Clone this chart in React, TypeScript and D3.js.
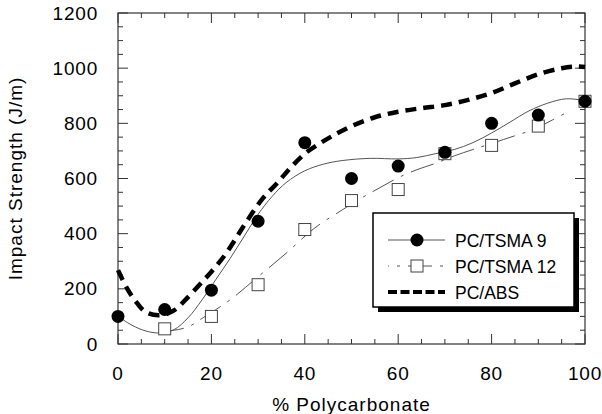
import React from "react";
import * as d3 from "d3";

const WIDTH = 602;
const HEIGHT = 414;

// measured points
const pcX = [0, 10, 20, 30, 40, 50, 60, 70, 80, 90, 100];
const tsma9 = [100, 125, 195, 445, 730, 600, 645, 695, 800, 830, 880];
const tsma12X = [10, 20, 30, 40, 50, 60, 70, 80, 90, 100];
const tsma12 = [55, 100, 215, 415, 520, 560, 690, 720, 790, 880];

// fitted curves
const fit9X = [0, 3, 6, 9, 12, 15, 18, 21, 24, 27, 30, 33, 36, 40, 44, 48, 54, 60, 64, 68, 72, 76, 80, 84, 88, 92, 96, 100];
const fit9Y = [100, 68, 47, 40, 52, 95, 160, 235, 310, 390, 470, 535, 585, 628, 652, 665, 673, 671, 676, 690, 705, 730, 765, 805, 845, 873, 889, 882];
const fit12X = [9, 12, 15, 18, 24, 30, 36, 42, 48, 52, 56, 60, 64, 68, 72, 76, 80, 85, 89, 93, 97];
const fit12Y = [45, 50, 62, 93, 160, 244, 329, 419, 486, 528, 566, 603, 632, 655, 682, 705, 727, 755, 778, 812, 848];
const absX = [0, 2, 4, 6, 9, 12, 15, 18, 20, 23, 27, 31, 34, 37, 40, 43, 46, 50, 55, 60, 65, 70, 75, 80, 85, 90, 95, 98, 100];
const absY = [268, 200, 150, 115, 104, 122, 170, 225, 262, 325, 430, 528, 582, 640, 690, 725, 755, 790, 822, 842, 855, 866, 885, 910, 945, 978, 1000, 1006, 1004];

const xTicks = [0, 20, 40, 60, 80, 100];
const yTicks = [0, 200, 400, 600, 800, 1000, 1200];
const legendLabels = ["PC/TSMA 9", "PC/TSMA 12", "PC/ABS"];

const FONT = "'Liberation Sans', Arial, sans-serif";

export default function App() {
  const left = 118, right = 585, top = 13, bottom = 344;
  const x = d3.scaleLinear().domain([0, 100]).range([left, right]);
  const y = d3.scaleLinear().domain([0, 1200]).range([bottom, top]);

  const line = d3.line<[number, number]>()
    .x(d => x(d[0]))
    .y(d => y(d[1]))
    .curve(d3.curveCatmullRom.alpha(0.5));

  const zip = (a: number[], b: number[]) => a.map((v, i) => [v, b[i]] as [number, number]);

  const xMinor = d3.range(0, 101, 5);
  const yMinor = d3.range(0, 1201, 50);

  const frame = "#333";
  const lx = 373, ly = 213, lw = 201, lh = 94;
  const rowY = [240, 266, 292];

  return (
    <svg width={WIDTH} height={HEIGHT} style={{ position: "absolute", left: 0, top: 0, background: "#fff" }}>
      {/* ticks */}
      <g stroke={frame} strokeWidth={1}>
        {xMinor.map(v => {
          const len = v % 20 === 0 ? 10 : 5;
          return (
            <g key={"xt" + v}>
              <line x1={x(v)} x2={x(v)} y1={bottom} y2={bottom - len} />
              <line x1={x(v)} x2={x(v)} y1={top} y2={top + len} />
            </g>
          );
        })}
        {yMinor.map(v => {
          const len = v % 200 === 0 ? 10 : 5;
          return (
            <g key={"yt" + v}>
              <line x1={left} x2={left + len} y1={y(v)} y2={y(v)} />
              <line x1={right} x2={right - len} y1={y(v)} y2={y(v)} />
            </g>
          );
        })}
      </g>
      <rect x={left} y={top} width={right - left} height={bottom - top} fill="none" stroke={frame} strokeWidth={1.2} />

      {/* curves */}
      <path d={line(zip(fit9X, fit9Y)) || ""} fill="none" stroke="#555" strokeWidth={1} />
      <path d={line(zip(fit12X, fit12Y)) || ""} fill="none" stroke="#555" strokeWidth={1} strokeDasharray="24,8,3,8" />
      <path d={line(zip(absX, absY)) || ""} fill="none" stroke="#000" strokeWidth={4.5} strokeDasharray="11,7" />

      {/* markers */}
      {tsma12X.map((v, i) => (
        <rect key={"s" + i} x={x(v) - 6} y={y(tsma12[i]) - 6} width={12} height={12} fill="#fff" stroke="#444" strokeWidth={1} />
      ))}
      {pcX.map((v, i) => (
        <circle key={"c" + i} cx={x(v)} cy={y(tsma9[i])} r={6.5} fill="#000" />
      ))}

      {/* legend */}
      <rect x={lx + 5} y={ly + 5} width={lw} height={lh} fill="#000" />
      <rect x={lx} y={ly} width={lw} height={lh} fill="#fff" stroke="#000" strokeWidth={1.5} />
      <line x1={388} x2={445} y1={rowY[0]} y2={rowY[0]} stroke="#555" strokeWidth={1} />
      <circle cx={417} cy={rowY[0]} r={6.5} fill="#000" />
      <line x1={388} x2={445} y1={rowY[1]} y2={rowY[1]} stroke="#555" strokeWidth={1} strokeDasharray="24,8,3,8" strokeDashoffset={-20} />
      <rect x={411} y={rowY[1] - 6} width={12} height={12} fill="#fff" stroke="#444" strokeWidth={1} />
      <line x1={388} x2={445} y1={rowY[2]} y2={rowY[2]} stroke="#000" strokeWidth={4} strokeDasharray="9,3.5" />
      {legendLabels.map((t, i) => (
        <text key={t} x={455} y={rowY[i] + 6.5} fontFamily={FONT} fontSize={17.5} fill="#000">{t}</text>
      ))}

      {/* axis labels */}
      <g fontFamily={FONT} fontSize={19} fill="#000" letterSpacing={0.8}>
        {xTicks.map(v => (
          <text key={"xl" + v} x={x(v)} y={380} textAnchor="middle">{v}</text>
        ))}
        {yTicks.map(v => (
          <text key={"yl" + v} x={98} y={y(v) + 6.5} textAnchor="end">{v}</text>
        ))}
      </g>
      <text x={(left + right) / 2} y={411} textAnchor="middle" fontFamily={FONT} fontSize={19} letterSpacing={1}>% Polycarbonate</text>
      <text transform={`translate(22,${(top + bottom) / 2}) rotate(-90)`} textAnchor="middle" fontFamily={FONT} fontSize={19} letterSpacing={1}>Impact Strength (J/m)</text>
    </svg>
  );
}
